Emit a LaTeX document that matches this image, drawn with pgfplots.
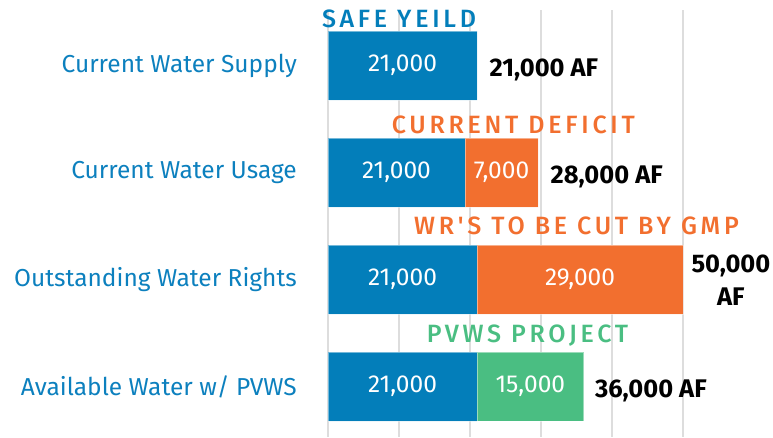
\documentclass[border=0pt]{standalone}
\usepackage{fontspec}
\setmainfont{Fira Sans}
\newfontfamily\spaced[LetterSpace=15]{Fira Sans Medium}
\usepackage{pgfplots}
\pgfplotsset{compat=1.18}
\definecolor{cblue}{RGB}{3,126,186}
\definecolor{corange}{RGB}{242,111,47}
\definecolor{cgreen}{RGB}{74,190,130}
\definecolor{ctext}{RGB}{12,128,190}
\definecolor{gridgray}{RGB}{221,221,221}
\begin{document}
\begin{tikzpicture}[x=1pt,y=1pt]
\useasboundingbox (0,0) rectangle (773,437);
\begin{axis}[
  at={(328pt,427pt)}, anchor=north west,
  scale only axis, width=355pt, height=427pt,
  xbar stacked, reverse stacked plots=false, bar width=69pt,
  xmin=0, xmax=50000, ymin=-0.52, ymax=3.47, y dir=reverse,
  axis line style={draw=none},
  major tick length=0pt,
  xtick={0,10000,20000,30000,40000,50000},
  xticklabels={},
  xmajorgrids, grid style={color=gridgray, line width=1.2pt},
  ytick={0,1,2,3},
  yticklabels={Current Water Supply, Current Water Usage, Outstanding Water Rights, Available Water w/ PVWS},
  yticklabel style={font=\fontsize{24.5}{28}\selectfont, text=ctext, inner sep=0pt, xshift=-31pt},
  clip=false,
]
\addplot[fill=cblue, draw=white, draw opacity=0.45, line width=0.8pt] coordinates {(21000,0) (19300,1) (21000,2) (21000,3)};
\addplot[fill=corange, draw=white, draw opacity=0.45, line width=0.8pt] coordinates {(0,0) (10300,1) (29000,2) (0,3)};
\addplot[fill=cgreen, draw=white, draw opacity=0.45, line width=0.8pt] coordinates {(0,0) (0,1) (0,2) (15000,3)};

\begin{scope}[every node/.style={text=white, font=\fontsize{24.5}{28}\selectfont}]
\node at (axis cs:10500,0) {21,000};
\node at (axis cs:9650,1) {21,000};
\node at (axis cs:24450,1) {7,000};
\node at (axis cs:10500,2) {21,000};
\node at (axis cs:35500,2) {29,000};
\node at (axis cs:10500,3) {21,000};
\node at (axis cs:28500,3) {15,000};
\end{scope}

\node[anchor=west, font=\fontsize{25.5}{28}\selectfont\bfseries] at (axis cs:21000,0) [xshift=9pt, yshift=-4pt] {21,000 AF};
\node[anchor=west, font=\fontsize{25.5}{28}\selectfont\bfseries] at (axis cs:29600,1) [xshift=9pt, yshift=-4pt] {28,000 AF};
\node[anchor=west, align=center, font=\fontsize{25.5}{33}\selectfont\bfseries] at (axis cs:50000,2) [xshift=5pt, yshift=-1pt] {50,000\\AF};
\node[anchor=west, font=\fontsize{25.5}{28}\selectfont\bfseries] at (axis cs:36000,3) [xshift=8pt, yshift=-4pt] {36,000 AF};

\node[text=cblue, font=\fontsize{25}{28}\spaced] at (axis cs:10000,-0.44) {SAFE YEILD};
\node[text=corange, font=\fontsize{25}{28}\spaced] at (axis cs:26100,0.55) {CURRENT DEFICIT};
\node[text=corange, font=\fontsize{25}{28}\spaced] at (axis cs:35000,1.5) {WR'S TO BE CUT BY GMP};
\node[text=cgreen, font=\fontsize{25}{28}\spaced] at (axis cs:28100,2.52) {PVWS PROJECT};
\end{axis}
\end{tikzpicture}
\end{document}
